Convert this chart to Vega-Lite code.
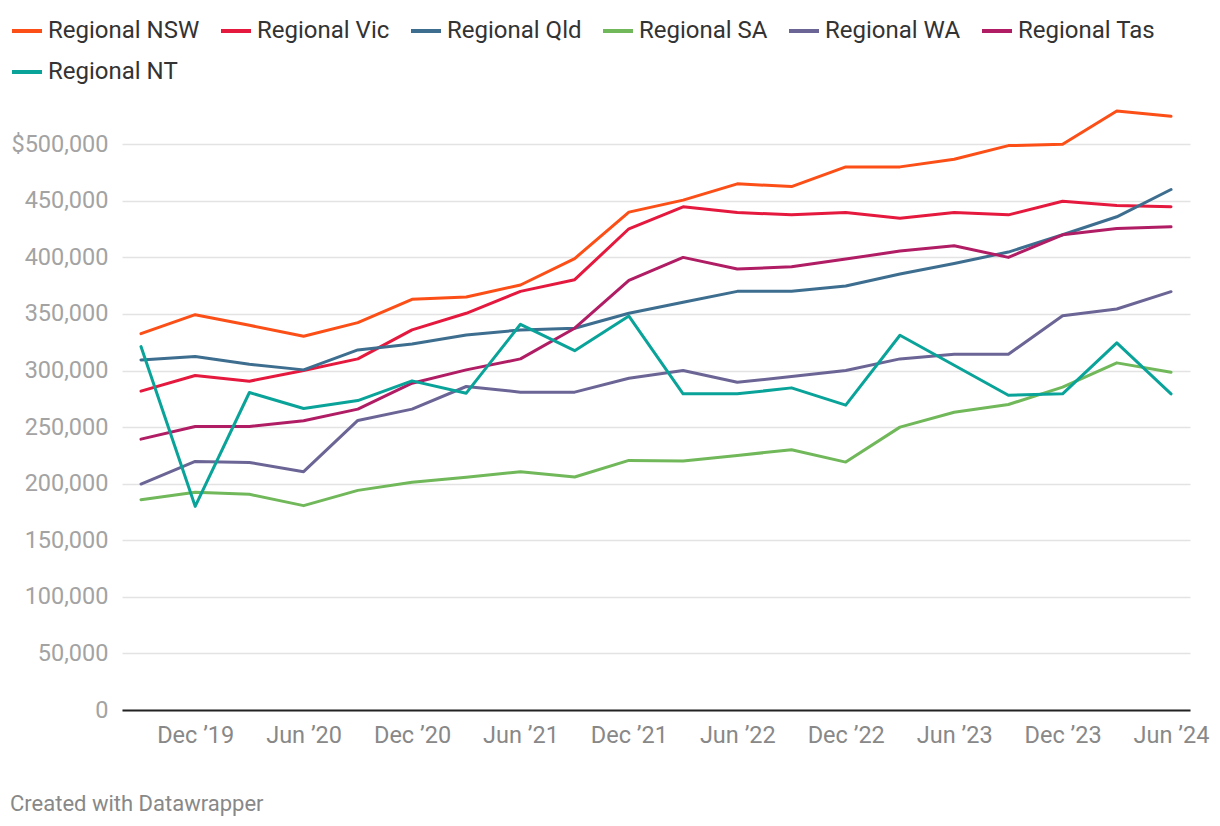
{
  "$schema": "https://vega.github.io/schema/vega-lite/v6.json",
  "width": 1068,
  "height": 611,
  "autosize": {"type": "none"},
  "padding": {"left": 122, "top": 99, "right": 30, "bottom": 116},
  "background": "white",
  "config": {"font": "Roboto", "view": {"stroke": null}},
  "title": {
    "text": "Created with Datawrapper",
    "orient": "bottom",
    "anchor": "start",
    "frame": "group",
    "dx": -112,
    "offset": 47,
    "fontSize": 22,
    "fontWeight": "normal",
    "color": "#888888"
  },
  "data": {"values": [
    {"q":"Sep ’19","r":"Regional NSW","v":332600},{"q":"Dec ’19","r":"Regional NSW","v":349400},{"q":"Mar ’20","r":"Regional NSW","v":340000},{"q":"Jun ’20","r":"Regional NSW","v":330300},{"q":"Sep ’20","r":"Regional NSW","v":342400},{"q":"Dec ’20","r":"Regional NSW","v":363000},{"q":"Mar ’21","r":"Regional NSW","v":365000},{"q":"Jun ’21","r":"Regional NSW","v":375600},{"q":"Sep ’21","r":"Regional NSW","v":399000},{"q":"Dec ’21","r":"Regional NSW","v":440000},{"q":"Mar ’22","r":"Regional NSW","v":450600},{"q":"Jun ’22","r":"Regional NSW","v":465000},{"q":"Sep ’22","r":"Regional NSW","v":462600},{"q":"Dec ’22","r":"Regional NSW","v":480000},{"q":"Mar ’23","r":"Regional NSW","v":480000},{"q":"Jun ’23","r":"Regional NSW","v":486800},{"q":"Sep ’23","r":"Regional NSW","v":498800},{"q":"Dec ’23","r":"Regional NSW","v":500000},{"q":"Mar ’24","r":"Regional NSW","v":529400},{"q":"Jun ’24","r":"Regional NSW","v":524700},
    {"q":"Sep ’19","r":"Regional Vic","v":281800},{"q":"Dec ’19","r":"Regional Vic","v":295600},{"q":"Mar ’20","r":"Regional Vic","v":290600},{"q":"Jun ’20","r":"Regional Vic","v":300000},{"q":"Sep ’20","r":"Regional Vic","v":310300},{"q":"Dec ’20","r":"Regional Vic","v":335900},{"q":"Mar ’21","r":"Regional Vic","v":350600},{"q":"Jun ’21","r":"Regional Vic","v":370000},{"q":"Sep ’21","r":"Regional Vic","v":380300},{"q":"Dec ’21","r":"Regional Vic","v":425300},{"q":"Mar ’22","r":"Regional Vic","v":444700},{"q":"Jun ’22","r":"Regional Vic","v":439700},{"q":"Sep ’22","r":"Regional Vic","v":437600},{"q":"Dec ’22","r":"Regional Vic","v":439700},{"q":"Mar ’23","r":"Regional Vic","v":434700},{"q":"Jun ’23","r":"Regional Vic","v":439700},{"q":"Sep ’23","r":"Regional Vic","v":437600},{"q":"Dec ’23","r":"Regional Vic","v":449700},{"q":"Mar ’24","r":"Regional Vic","v":445900},{"q":"Jun ’24","r":"Regional Vic","v":444700},
    {"q":"Sep ’19","r":"Regional Qld","v":309400},{"q":"Dec ’19","r":"Regional Qld","v":312400},{"q":"Mar ’20","r":"Regional Qld","v":305600},{"q":"Jun ’20","r":"Regional Qld","v":300600},{"q":"Sep ’20","r":"Regional Qld","v":318200},{"q":"Dec ’20","r":"Regional Qld","v":323500},{"q":"Mar ’21","r":"Regional Qld","v":331500},{"q":"Jun ’21","r":"Regional Qld","v":335900},{"q":"Sep ’21","r":"Regional Qld","v":337400},{"q":"Dec ’21","r":"Regional Qld","v":350600},{"q":"Mar ’22","r":"Regional Qld","v":360300},{"q":"Jun ’22","r":"Regional Qld","v":370000},{"q":"Sep ’22","r":"Regional Qld","v":370000},{"q":"Dec ’22","r":"Regional Qld","v":374700},{"q":"Mar ’23","r":"Regional Qld","v":385300},{"q":"Jun ’23","r":"Regional Qld","v":394700},{"q":"Sep ’23","r":"Regional Qld","v":404700},{"q":"Dec ’23","r":"Regional Qld","v":420000},{"q":"Mar ’24","r":"Regional Qld","v":435900},{"q":"Jun ’24","r":"Regional Qld","v":460000},
    {"q":"Sep ’19","r":"Regional SA","v":185900},{"q":"Dec ’19","r":"Regional SA","v":192400},{"q":"Mar ’20","r":"Regional SA","v":190600},{"q":"Jun ’20","r":"Regional SA","v":180600},{"q":"Sep ’20","r":"Regional SA","v":194100},{"q":"Dec ’20","r":"Regional SA","v":201200},{"q":"Mar ’21","r":"Regional SA","v":205600},{"q":"Jun ’21","r":"Regional SA","v":210600},{"q":"Sep ’21","r":"Regional SA","v":205900},{"q":"Dec ’21","r":"Regional SA","v":220600},{"q":"Mar ’22","r":"Regional SA","v":220000},{"q":"Jun ’22","r":"Regional SA","v":225000},{"q":"Sep ’22","r":"Regional SA","v":230000},{"q":"Dec ’22","r":"Regional SA","v":219100},{"q":"Mar ’23","r":"Regional SA","v":250000},{"q":"Jun ’23","r":"Regional SA","v":263200},{"q":"Sep ’23","r":"Regional SA","v":270000},{"q":"Dec ’23","r":"Regional SA","v":285300},{"q":"Mar ’24","r":"Regional SA","v":306800},{"q":"Jun ’24","r":"Regional SA","v":298500},
    {"q":"Sep ’19","r":"Regional WA","v":199700},{"q":"Dec ’19","r":"Regional WA","v":219700},{"q":"Mar ’20","r":"Regional WA","v":218800},{"q":"Jun ’20","r":"Regional WA","v":210600},{"q":"Sep ’20","r":"Regional WA","v":255900},{"q":"Dec ’20","r":"Regional WA","v":265900},{"q":"Mar ’21","r":"Regional WA","v":285900},{"q":"Jun ’21","r":"Regional WA","v":280900},{"q":"Sep ’21","r":"Regional WA","v":280900},{"q":"Dec ’21","r":"Regional WA","v":293200},{"q":"Mar ’22","r":"Regional WA","v":300000},{"q":"Jun ’22","r":"Regional WA","v":289700},{"q":"Sep ’22","r":"Regional WA","v":294700},{"q":"Dec ’22","r":"Regional WA","v":300000},{"q":"Mar ’23","r":"Regional WA","v":310300},{"q":"Jun ’23","r":"Regional WA","v":314400},{"q":"Sep ’23","r":"Regional WA","v":314400},{"q":"Dec ’23","r":"Regional WA","v":348500},{"q":"Mar ’24","r":"Regional WA","v":354400},{"q":"Jun ’24","r":"Regional WA","v":369700},
    {"q":"Sep ’19","r":"Regional Tas","v":239400},{"q":"Dec ’19","r":"Regional Tas","v":250600},{"q":"Mar ’20","r":"Regional Tas","v":250600},{"q":"Jun ’20","r":"Regional Tas","v":255600},{"q":"Sep ’20","r":"Regional Tas","v":265900},{"q":"Dec ’20","r":"Regional Tas","v":288800},{"q":"Mar ’21","r":"Regional Tas","v":300600},{"q":"Jun ’21","r":"Regional Tas","v":310300},{"q":"Sep ’21","r":"Regional Tas","v":337400},{"q":"Dec ’21","r":"Regional Tas","v":379700},{"q":"Mar ’22","r":"Regional Tas","v":400000},{"q":"Jun ’22","r":"Regional Tas","v":389700},{"q":"Sep ’22","r":"Regional Tas","v":391800},{"q":"Dec ’22","r":"Regional Tas","v":398500},{"q":"Mar ’23","r":"Regional Tas","v":405600},{"q":"Jun ’23","r":"Regional Tas","v":410300},{"q":"Sep ’23","r":"Regional Tas","v":400000},{"q":"Dec ’23","r":"Regional Tas","v":420000},{"q":"Mar ’24","r":"Regional Tas","v":425600},{"q":"Jun ’24","r":"Regional Tas","v":427000},
    {"q":"Sep ’19","r":"Regional NT","v":321200},{"q":"Dec ’19","r":"Regional NT","v":180000},{"q":"Mar ’20","r":"Regional NT","v":280600},{"q":"Jun ’20","r":"Regional NT","v":266500},{"q":"Sep ’20","r":"Regional NT","v":273500},{"q":"Dec ’20","r":"Regional NT","v":290900},{"q":"Mar ’21","r":"Regional NT","v":280000},{"q":"Jun ’21","r":"Regional NT","v":340900},{"q":"Sep ’21","r":"Regional NT","v":317600},{"q":"Dec ’21","r":"Regional NT","v":348200},{"q":"Mar ’22","r":"Regional NT","v":279400},{"q":"Jun ’22","r":"Regional NT","v":279400},{"q":"Sep ’22","r":"Regional NT","v":284700},{"q":"Dec ’22","r":"Regional NT","v":269400},{"q":"Mar ’23","r":"Regional NT","v":331200},{"q":"Jun ’23","r":"Regional NT","v":304700},{"q":"Sep ’23","r":"Regional NT","v":278200},{"q":"Dec ’23","r":"Regional NT","v":279400},{"q":"Mar ’24","r":"Regional NT","v":324400},{"q":"Jun ’24","r":"Regional NT","v":279400}
  ]},
  "mark": {"type": "line", "strokeWidth": 3, "strokeJoin": "round", "strokeCap": "round"},
  "encoding": {
    "x": {
      "field": "q", "type": "ordinal", "sort": null, "title": null,
      "scale": {"type": "point", "padding": 0.35},
      "axis": {
        "values": ["Dec ’19","Jun ’20","Dec ’20","Jun ’21","Dec ’21","Jun ’22","Dec ’22","Jun ’23","Dec ’23","Jun ’24"],
        "labelAngle": 0, "ticks": false, "grid": false,
        "domainColor": "#222222", "domainWidth": 2,
        "labelFontSize": 23.5, "labelColor": "#888888", "labelPadding": 13,
        "labelOverlap": false
      }
    },
    "y": {
      "field": "v", "type": "quantitative", "title": null,
      "scale": {"domain": [0, 540000], "nice": false, "zero": true},
      "axis": {
        "values": [0,50000,100000,150000,200000,250000,300000,350000,400000,450000,500000],
        "labelExpr": "datum.value == 500000 ? '$500,000' : format(datum.value, ',')",
        "domain": false, "ticks": false,
        "gridColor": "#e3e3e3", "gridWidth": 1.5,
        "labelFontSize": 23.5, "labelColor": "#a3a3a3", "labelPadding": 14
      }
    },
    "color": {
      "field": "r", "type": "nominal",
      "scale": {
        "domain": ["Regional NSW","Regional Vic","Regional Qld","Regional SA","Regional WA","Regional Tas","Regional NT"],
        "range": ["#fc4f17","#e5183e","#3d6e8f","#71b85a","#6b6596","#b01d64","#0aa39a"]
      },
      "legend": {
        "title": null, "orient": "none", "legendX": -112, "legendY": -85,
        "direction": "horizontal", "columns": 6,
        "symbolType": "stroke", "symbolSize": 900, "symbolStrokeWidth": 4,
        "labelFontSize": 24, "labelColor": "#333333", "labelOffset": 4,
        "columnPadding": 13, "rowPadding": 12, "labelLimit": 300
      }
    }
  }
}
